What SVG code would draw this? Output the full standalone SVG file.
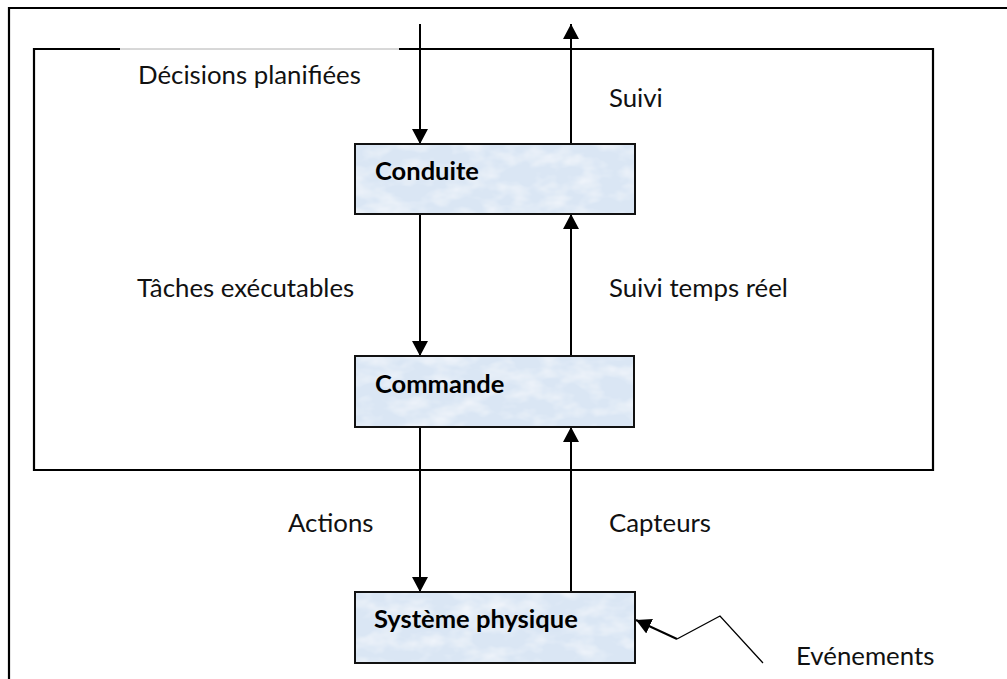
<svg xmlns="http://www.w3.org/2000/svg" width="1007" height="679" viewBox="0 0 1007 679">
  <style>
    .frame { fill: none; stroke: #000; stroke-width: 2.2; }
    .box { fill: none; stroke: #111; stroke-width: 2; }
    .boxfill { fill: #dae6f4; filter: url(#mottle); }
    .flow { fill: none; stroke: #000; stroke-width: 2; }
    .thin { fill: none; stroke: #000; stroke-width: 1.3; }
    .lbl { font-family: Lato, "Liberation Sans", sans-serif; font-size: 25.8px; fill: #111; }
    .name { font-family: Lato, "Liberation Sans", sans-serif; font-size: 25.5px; font-weight: bold; fill: #000; }
  </style>
  <defs>
    <marker id="head" markerUnits="userSpaceOnUse" markerWidth="17" markerHeight="17" refX="15" refY="8.5" orient="auto">
      <path d="M0,0.5 L15,8.5 L0,16.5 z" fill="#000"/>
    </marker>
    <filter id="mottle" x="0" y="0" width="1" height="1">
      <feTurbulence type="fractalNoise" baseFrequency="0.035 0.06" numOctaves="3" seed="7" result="n"/>
      <feColorMatrix in="n" type="matrix" values="0 0 0 0 1  0 0 0 0 1  0 0 0 0 1  0 0 0 1.2 -0.5" result="w"/>
      <feComposite in="w" in2="SourceGraphic" operator="in" result="wc"/>
      <feMerge><feMergeNode in="SourceGraphic"/><feMergeNode in="wc"/></feMerge>
    </filter>
  </defs>

  <rect width="1007" height="679" fill="#fff"/>

  <!-- outer page frame (open to the right and bottom) -->
  <path class="frame" d="M9,679 V8 H1007"/>

  <!-- control boundary; its top edge is interrupted behind the label -->
  <path class="frame" d="M120,49 H34 V470 H933 V49 H399"/>
  <line x1="120" y1="49" x2="399" y2="49" stroke="#b0b0b0" stroke-width="1"/>

  <g id="connectors">
    <line class="flow" x1="420" y1="24" x2="420" y2="144" marker-end="url(#head)"/>
    <line class="flow" x1="571" y1="144" x2="571" y2="24" marker-end="url(#head)"/>
    <line class="flow" x1="420" y1="214" x2="420" y2="356" marker-end="url(#head)"/>
    <line class="flow" x1="571" y1="356" x2="571" y2="214" marker-end="url(#head)"/>
    <line class="flow" x1="420" y1="427" x2="420" y2="592" marker-end="url(#head)"/>
    <line class="flow" x1="571" y1="592" x2="571" y2="427" marker-end="url(#head)"/>
    <!-- external events jag -->
    <polyline class="thin" points="763,663 720,616 677,639"/>
    <line class="flow" x1="677" y1="639" x2="636" y2="620" stroke-width="2.4" marker-end="url(#head)"/>
  </g>

  <g id="conduite">
    <rect class="boxfill" x="355" y="144" width="280" height="70"/>
    <rect class="box" x="355" y="144" width="280" height="70"/>
    <text class="name" x="375" y="180">Conduite</text>
  </g>

  <g id="commande">
    <rect class="boxfill" x="355" y="356" width="279" height="71"/>
    <rect class="box" x="355" y="356" width="279" height="71"/>
    <text class="name" x="375" y="393">Commande</text>
  </g>

  <g id="systeme-physique">
    <rect class="boxfill" x="355" y="592" width="280" height="71"/>
    <rect class="box" x="355" y="592" width="280" height="71"/>
    <text class="name" x="374" y="628">Système physique</text>
  </g>

  <g id="labels">
    <text class="lbl" x="138" y="84">Décisions planifiées</text>
    <text class="lbl" x="609" y="107">Suivi</text>
    <text class="lbl" x="137" y="297">Tâches exécutables</text>
    <text class="lbl" x="609" y="297">Suivi temps réel</text>
    <text class="lbl" x="288" y="532">Actions</text>
    <text class="lbl" x="609" y="532">Capteurs</text>
    <text class="lbl" x="796" y="665">Evénements</text>
  </g>
</svg>
